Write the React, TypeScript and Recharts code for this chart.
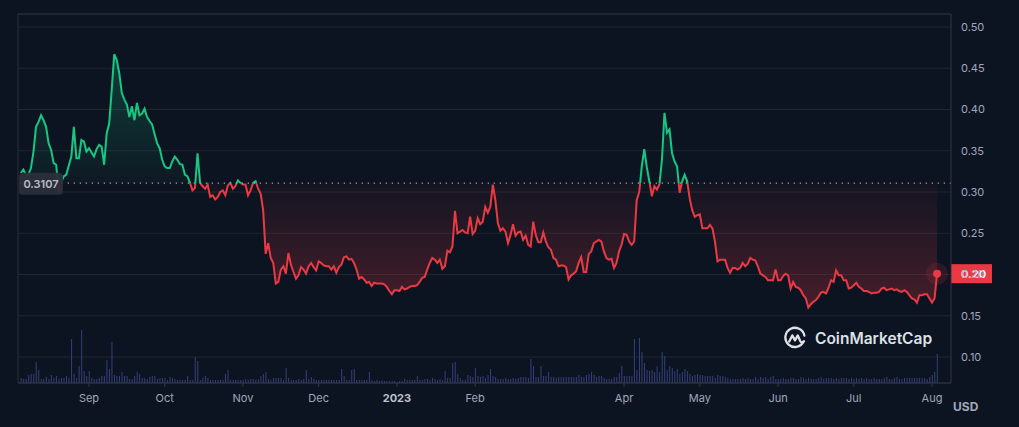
import React from 'react';
import {
  ComposedChart,
  Area,
  Bar,
  XAxis,
  YAxis,
  CartesianGrid,
  ReferenceLine,
  ReferenceDot,
} from 'recharts';

// Daily close prices (USD), one value per day starting 2022-08-05
const PRICES: number[] = [
  0.323, 0.327, 0.321, 0.321, 0.329, 0.349, 0.379, 0.385, 0.393, 0.387,
  0.379, 0.359, 0.351, 0.335, 0.333, 0.299, 0.312, 0.319, 0.321, 0.332,
  0.343, 0.379, 0.341, 0.341, 0.363, 0.361, 0.349, 0.353, 0.348, 0.343,
  0.352, 0.357, 0.355, 0.333, 0.371, 0.383, 0.424, 0.467, 0.46, 0.444,
  0.42, 0.412, 0.406, 0.391, 0.404, 0.387, 0.408, 0.393, 0.395, 0.401,
  0.391, 0.386, 0.382, 0.37, 0.359, 0.353, 0.339, 0.331, 0.329, 0.329,
  0.337, 0.343, 0.339, 0.334, 0.333, 0.321, 0.319, 0.311, 0.302, 0.305,
  0.347, 0.311, 0.307, 0.304, 0.309, 0.294, 0.296, 0.291, 0.294, 0.3,
  0.302, 0.296, 0.308, 0.311, 0.304, 0.307, 0.314, 0.311, 0.309, 0.309,
  0.296, 0.302, 0.311, 0.313, 0.304, 0.298, 0.278, 0.225, 0.238, 0.22,
  0.214, 0.189, 0.191, 0.206, 0.21, 0.201, 0.226, 0.212, 0.203, 0.195,
  0.199, 0.209, 0.206, 0.201, 0.21, 0.214, 0.209, 0.205, 0.216, 0.214,
  0.211, 0.21, 0.21, 0.206, 0.21, 0.202, 0.209, 0.212, 0.221, 0.222,
  0.218, 0.219, 0.214, 0.206, 0.195, 0.197, 0.194, 0.19, 0.191, 0.186,
  0.19, 0.189, 0.189, 0.189, 0.188, 0.185, 0.18, 0.176, 0.181, 0.181,
  0.18, 0.185, 0.182, 0.183, 0.185, 0.186, 0.186, 0.187, 0.191, 0.196,
  0.197, 0.206, 0.214, 0.22, 0.218, 0.214, 0.218, 0.207, 0.21, 0.229,
  0.227, 0.234, 0.277, 0.25, 0.252, 0.254, 0.251, 0.25, 0.27, 0.249,
  0.253, 0.268, 0.261, 0.264, 0.282, 0.275, 0.282, 0.309, 0.29, 0.262,
  0.253, 0.256, 0.252, 0.238, 0.248, 0.261, 0.247, 0.251, 0.252, 0.242,
  0.247, 0.236, 0.234, 0.264, 0.248, 0.239, 0.239, 0.251, 0.24, 0.233,
  0.23, 0.22, 0.218, 0.21, 0.211, 0.211, 0.209, 0.194, 0.199, 0.201,
  0.204, 0.214, 0.221, 0.203, 0.203, 0.225, 0.228, 0.238, 0.24, 0.242,
  0.24, 0.228, 0.22, 0.218, 0.219, 0.208, 0.214, 0.228, 0.236, 0.249,
  0.248, 0.24, 0.236, 0.24, 0.29, 0.3, 0.331, 0.352, 0.33, 0.313,
  0.295, 0.307, 0.303, 0.309, 0.339, 0.396, 0.372, 0.376, 0.347, 0.337,
  0.331, 0.299, 0.313, 0.321, 0.313, 0.292, 0.278, 0.27, 0.272, 0.273,
  0.256, 0.256, 0.256, 0.26, 0.256, 0.24, 0.216, 0.218, 0.218, 0.218,
  0.208, 0.202, 0.208, 0.208, 0.206, 0.208, 0.214, 0.21, 0.213, 0.22,
  0.218, 0.217, 0.21, 0.201, 0.199, 0.197, 0.193, 0.193, 0.193, 0.206,
  0.193, 0.193, 0.198, 0.201, 0.199, 0.183, 0.191, 0.185, 0.184, 0.181,
  0.175, 0.171, 0.16, 0.164, 0.167, 0.169, 0.173, 0.178, 0.179, 0.177,
  0.184, 0.193, 0.191, 0.205, 0.199, 0.199, 0.193, 0.193, 0.183, 0.184,
  0.187, 0.19, 0.185, 0.183, 0.18, 0.18, 0.179, 0.177, 0.178, 0.178,
  0.179, 0.183, 0.184, 0.181, 0.182, 0.183, 0.181, 0.182, 0.18, 0.179,
  0.181, 0.179, 0.175, 0.171, 0.17, 0.166, 0.175, 0.175, 0.176, 0.176,
  0.171, 0.166, 0.171, 0.201,
];

// Daily volume (relative units), same days as PRICES
const VOLUMES: number[] = [
  5, 4, 4, 8, 9, 9, 21, 13, 4, 4, 6, 4, 8, 5, 7, 4, 5, 5, 7, 5,
  44, 9, 5, 17, 53, 12, 7, 12, 5, 4, 4, 5, 7, 7, 23, 14, 41, 8, 7, 7,
  11, 7, 7,
  4, 4, 7, 11, 9, 5, 5, 4, 6, 7, 7, 4, 5, 5, 5, 3, 6, 5, 4, 3,
  3, 3, 3, 7, 3, 3, 26, 22, 3, 5, 7, 5, 3, 3, 3, 3, 3, 3, 9, 13,
  3, 3, 3, 3, 3, 3, 4, 3, 4, 4, 3, 4, 7, 9, 11, 4, 3, 5, 5, 5,
  5, 3, 15, 5, 3, 3, 3, 4, 3, 4, 13, 4, 6, 4, 3, 3, 3, 3, 3, 3,
  3, 3, 3, 3, 14, 7, 3, 3, 13, 14, 3, 3, 3, 3, 3, 11, 3, 2, 3, 2,
  3, 2, 2, 2, 2, 2, 1, 2, 2, 4, 3, 3, 3, 3, 7, 3, 3, 4, 4, 3,
  5, 4, 3, 4, 3, 12, 5, 5, 20, 21, 9, 5, 3, 3, 8, 7, 6, 15, 7, 6,
  7, 5, 8, 14, 7, 6, 4,
  4, 4, 5, 4, 4, 5, 4, 5, 6, 6, 6, 5, 24, 17, 6, 6, 17, 7, 7, 11,
  6, 6, 5, 6, 6, 6, 6, 6, 6, 6, 6, 8, 6, 6, 8, 9, 11, 8, 6, 7,
  7, 5, 4, 4, 4, 6, 6, 10, 17, 7, 7, 7, 7, 44, 13, 45, 31, 20, 13, 12,
  13, 11, 17, 11, 31, 27, 13, 17, 15, 12, 14, 9, 11, 14, 12, 9, 7, 8, 9, 8,
  8, 7, 7, 7, 7, 5, 8, 7, 7, 6, 5, 4, 4, 4, 4, 4, 5, 4, 5, 4,
  4, 6, 4, 6, 5, 6, 4, 6, 7, 4, 4, 4, 5, 4, 4, 5, 5, 4, 4, 6,
  5, 4, 5, 4, 4, 4, 5, 6, 4, 5, 5, 5, 4, 5, 4, 5, 5, 5, 4, 5,
  4, 5, 4, 5, 4, 5, 4, 4, 5, 4, 4, 4, 5, 6, 4, 4, 5, 6, 4, 4,
  5, 5, 5, 5, 5, 5, 5, 5, 5, 4, 6, 8, 11, 29,
];

const MONTH_TICK_DAYS = [27, 57, 88, 118, 149, 180, 239, 269, 300, 330, 361];
const MONTH_TICK_LABELS = ['Sep', 'Oct', 'Nov', 'Dec', '2023', 'Feb', 'Apr', 'May', 'Jun', 'Jul', 'Aug'];
const PRICE_TICKS = [0.1, 0.15, 0.2, 0.25, 0.3, 0.35, 0.4, 0.45, 0.5];
const BASELINE = 0.3107;

const X_DOMAIN: [number, number] = [-1.13, 368.52];
const Y_DOMAIN: [number, number] = [0.06849, 0.51576];
const VOL_DOMAIN: [number, number] = [0, 369];

const GREEN = '#16c784';
const RED = '#ea3943';
const BG = '#0d1421';
const GRID = '#222531';
const AXIS = '#323546';
const TEXT = '#a1a7bb';
const FONT = 'Inter, "Noto Sans", sans-serif';

const data = PRICES.map((p, i) => ({ t: i, price: p, volume: VOLUMES[i] }));
const maxP = Math.max(...PRICES);
const minP = Math.min(...PRICES);
const splitOff = (maxP - BASELINE) / (maxP - minP);
const lastIdx = PRICES.length - 1;
const lastPrice = PRICES[lastIdx];

const XTick = (props: any) => {
  const { x, y, payload } = props;
  const idx = MONTH_TICK_DAYS.indexOf(payload.value);
  const label = MONTH_TICK_LABELS[idx] ?? '';
  const bold = label === '2023';
  return (
    <text
      x={x}
      y={y}
      dy="0.71em"
      textAnchor="middle"
      fontSize={11}
      fontFamily={FONT}
      fontWeight={bold ? 700 : 400}
      fill={bold ? '#bcc1cf' : TEXT}
    >
      {label}
    </text>
  );
};

const BaseLabel = (props: any) => {
  const { viewBox } = props;
  const x = viewBox.x;
  const y = viewBox.y;
  return (
    <g>
      <rect x={x + 1} y={y - 10.5} width={44} height={22} rx={4} fill="#2a2e3a" fillOpacity={0.95} />
      <text x={x + 23} y={y + 0.5} dy="0.35em" textAnchor="middle" fontSize={11} fontWeight={600} fontFamily={FONT} fill="#b9bdca">
        {BASELINE.toFixed(4)}
      </text>
    </g>
  );
};

const PriceTag = (props: any) => {
  const { viewBox } = props;
  const x = viewBox.x + viewBox.width;
  const y = viewBox.y;
  return (
    <g>
      <rect x={x} y={y - 9.5} width={41} height={19} fill={RED} />
      <text x={x + 10} y={y} dy="0.35em" textAnchor="start" fontSize={11} fontWeight={700} fontFamily={FONT} fill="#ffffff">
        {lastPrice.toFixed(2)}
      </text>
    </g>
  );
};

const Logo = () => (
  <div
    style={{
      position: 'absolute',
      left: 783,
      top: 326,
      display: 'flex',
      alignItems: 'center',
      height: 24,
      color: '#dde0e7',
      fontFamily: FONT,
      fontWeight: 600,
      fontSize: 15.5,
      letterSpacing: 0,
      pointerEvents: 'none',
    }}
  >
    <svg width={24} height={24} viewBox="0 0 24 24" style={{ marginRight: 8 }}>
      <path d="M20.6 15.6 A9.6 9.6 0 1 1 21.4 9.6" fill="none" stroke="#dde0e7" strokeWidth={2.3} strokeLinecap="round" />
      <path d="M6.2 15.6 L9.3 9.4 L12 14.4 L14.8 9.4 L17.2 15 Q18.6 17.6 21 15.2" fill="none" stroke="#dde0e7" strokeWidth={2.3} strokeLinecap="round" strokeLinejoin="round" />
    </svg>
    <span>CoinMarketCap</span>
  </div>
);

export default function App() {
  return (
    <div
      style={{
        position: 'absolute',
        left: 0,
        top: 0,
        width: 1019,
        height: 427,
        background: BG,
        fontFamily: FONT,
        overflow: 'hidden',
      }}
    >
      <ComposedChart
        width={1019}
        height={427}
        data={data}
        margin={{ top: 14, right: 0, bottom: 0, left: 18 }}
      >
        <defs>
          <linearGradient id="strokeGrad" x1="0" y1="0" x2="0" y2="1">
            <stop offset={splitOff} stopColor={GREEN} />
            <stop offset={splitOff} stopColor={RED} />
          </linearGradient>
          <linearGradient id="fillGrad" x1="0" y1="0" x2="0" y2="1">
            <stop offset={0} stopColor={GREEN} stopOpacity={0.24} />
            <stop offset={splitOff} stopColor={GREEN} stopOpacity={0.03} />
            <stop offset={splitOff} stopColor={RED} stopOpacity={0.03} />
            <stop offset={1} stopColor={RED} stopOpacity={0.26} />
          </linearGradient>
        </defs>
        <CartesianGrid vertical={false} yAxisId="p" stroke={GRID} strokeWidth={1} />
        <XAxis
          dataKey="t"
          type="number"
          domain={X_DOMAIN}
          allowDataOverflow
          ticks={MONTH_TICK_DAYS}
          interval={0}
          height={44}
          stroke={AXIS}
          tickSize={4}
          tickMargin={7}
          tick={<XTick />}
        />
        <YAxis
          yAxisId="p"
          orientation="right"
          domain={Y_DOMAIN}
          allowDataOverflow
          ticks={PRICE_TICKS}
          interval={0}
          width={68}
          stroke={AXIS}
          tickLine={false}
          tickSize={0}
          tickMargin={10}
          tickFormatter={(v: number) => v.toFixed(2)}
          tick={{ fill: TEXT, fontSize: 11, fontFamily: FONT }}
        />
        <YAxis yAxisId="v" hide domain={VOL_DOMAIN} allowDataOverflow />
        <ReferenceLine yAxisId="p" x={X_DOMAIN[0]} stroke="#2a2e3b" />
        <ReferenceLine yAxisId="p" y={Y_DOMAIN[1]} stroke="#2a2e3b" />
        <Bar
          yAxisId="v"
          dataKey="volume"
          fill="#34407a"
          barSize={1}
          isAnimationActive={false}
        />
        <Area
          yAxisId="p"
          type="linear"
          dataKey="price"
          baseValue={BASELINE}
          stroke="url(#strokeGrad)"
          strokeWidth={2}
          fill="url(#fillGrad)"
          fillOpacity={1}
          dot={false}
          activeDot={false}
          isAnimationActive={false}
        />
        <ReferenceLine
          yAxisId="p"
          y={BASELINE}
          stroke="#9ca1b0"
          strokeWidth={1.3}
          strokeDasharray="1.3 4.7"
          label={<BaseLabel />}
        />
        <ReferenceLine yAxisId="p" y={lastPrice} stroke="transparent" label={<PriceTag />} />
        <ReferenceDot yAxisId="p" x={lastIdx} y={lastPrice} r={11} fill={RED} fillOpacity={0.14} stroke="none" />
        <ReferenceDot yAxisId="p" x={lastIdx} y={lastPrice} r={4} fill={RED} stroke="none" />
      </ComposedChart>
      <Logo />
      <div
        style={{
          position: 'absolute',
          left: 953,
          top: 400,
          fontFamily: FONT,
          fontSize: 12,
          fontWeight: 700,
          color: TEXT,
          lineHeight: '13px',
        }}
      >
        USD
      </div>
    </div>
  );
}
